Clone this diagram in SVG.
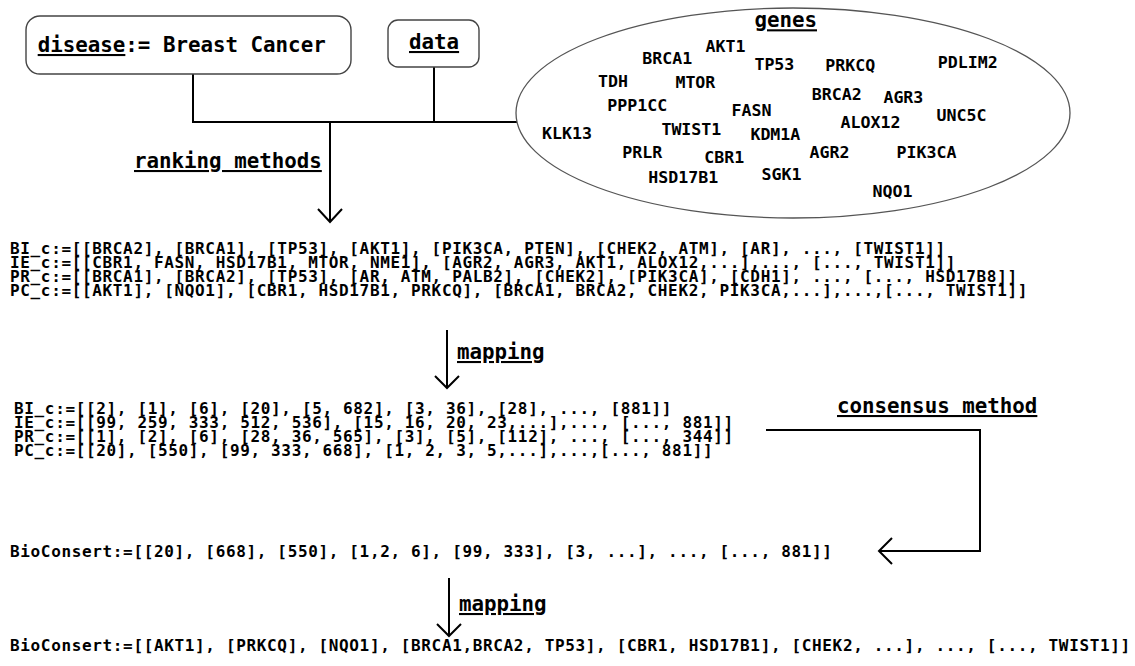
<svg xmlns="http://www.w3.org/2000/svg" width="1135" height="666" viewBox="0 0 1135 666">
<style>
text{font-family:"DejaVu Sans Mono","Liberation Mono",monospace;font-weight:bold;fill:#000}
.title{font-size:20.8px}
.gene{font-size:16.6px}
.list{font-size:16px;letter-spacing:0.65px}
.ul{text-decoration:underline}
.box{fill:#fff;stroke:#444;stroke-width:1.4}
.conn{fill:none;stroke:#000;stroke-width:2}
</style>
<rect width="1135" height="666" fill="#fff"/>
<g id="connectors" class="conn">
<path d="M193,74 V122 H517"/>
<path d="M434,67 V122"/>
<path d="M330,122 V222"/>
<polyline points="318,209 330,222 342,209"/>
<path d="M447,330 V388"/>
<polyline points="435,376 447,388 459,376"/>
<path d="M766,430 H980 V551 H879"/>
<polyline points="892,538 879,551 892,564"/>
<path d="M449,578 V636"/>
<polyline points="437,624 449,636 461,624"/>
</g>
<g id="disease">
<rect class="box" x="26" y="16" width="325" height="58" rx="14"/>
<text class="title" x="37.7" y="52"><tspan class="ul">disease</tspan>:= Breast Cancer</text>
</g>
<g id="data">
<rect class="box" x="388" y="20" width="91" height="47" rx="10"/>
<text class="title ul" x="409" y="49">data</text>
</g>
<g id="genes">
<ellipse cx="793" cy="113" rx="277" ry="105" fill="#fff" stroke="#555" stroke-width="1.3"/>
<text class="title ul" x="754.4" y="27.3">genes</text>
<text class="gene" x="705.5" y="51.7">AKT1</text>
<text class="gene" x="642.2" y="64">BRCA1</text>
<text class="gene" x="754.4" y="70">TP53</text>
<text class="gene" x="825.3" y="70.7">PRKCQ</text>
<text class="gene" x="937.8" y="68.3">PDLIM2</text>
<text class="gene" x="598.1" y="87.3">TDH</text>
<text class="gene" x="675.4" y="88.3">MTOR</text>
<text class="gene" x="811.7" y="100">BRCA2</text>
<text class="gene" x="883.4" y="103.3">AGR3</text>
<text class="gene" x="607.3" y="110.7">PPP1CC</text>
<text class="gene" x="731.5" y="115.7">FASN</text>
<text class="gene" x="936.6" y="120.7">UNC5C</text>
<text class="gene" x="840.5" y="128.3">ALOX12</text>
<text class="gene" x="542" y="139">KLK13</text>
<text class="gene" x="661.4" y="135">TWIST1</text>
<text class="gene" x="750.4" y="140">KDM1A</text>
<text class="gene" x="622.2" y="158.3">PRLR</text>
<text class="gene" x="704.3" y="162.7">CBR1</text>
<text class="gene" x="809.6" y="158.3">AGR2</text>
<text class="gene" x="896.6" y="158.3">PIK3CA</text>
<text class="gene" x="648.2" y="182.7">HSD17B1</text>
<text class="gene" x="761.6" y="180">SGK1</text>
<text class="gene" x="872.5" y="196.7">NQO1</text>
</g>
<g id="ranking-label">
<text class="title ul" x="134" y="168">ranking methods</text>
</g>
<g id="ranked-lists">
<text class="list" x="10" y="253.5">BI_c:=[[BRCA2], [BRCA1], [TP53], [AKT1], [PIK3CA, PTEN], [CHEK2, ATM], [AR], ..., [TWIST1]]</text>
<text class="list" x="10" y="267.8">IE_c:=[[CBR1, FASN, HSD17B1, MTOR, NME1], [AGR2, AGR3, AKT1, ALOX12,...],..., [..., TWIST1]]</text>
<text class="list" x="10" y="282.1">PR_c:=[[BRCA1], [BRCA2], [TP53], [AR, ATM, PALB2], [CHEK2], [PIK3CA], [CDH1], ..., [..., HSD17B8]]</text>
<text class="list" x="10" y="296.4">PC_c:=[[AKT1], [NQO1], [CBR1, HSD17B1, PRKCQ], [BRCA1, BRCA2, CHEK2, PIK3CA,...],...,[..., TWIST1]]</text>
</g>
<g id="mapping-label-1">
<text class="title ul" x="457" y="359">mapping</text>
</g>
<g id="mapped-lists">
<text class="list" x="14" y="413.5">BI_c:=[[2], [1], [6], [20], [5, 682], [3, 36], [28], ..., [881]]</text>
<text class="list" x="14" y="427.8">IE_c:=[[99, 259, 333, 512, 536], [15, 16, 20, 23,...],..., [..., 881]]</text>
<text class="list" x="14" y="442.1">PR_c:=[[1], [2], [6], [28, 36, 565], [3], [5], [112], ..., [..., 344]]</text>
<text class="list" x="14" y="456.4">PC_c:=[[20], [550], [99, 333, 668], [1, 2, 3, 5,...],...,[..., 881]]</text>
</g>
<g id="consensus-label">
<text class="title ul" x="837" y="413">consensus method</text>
</g>
<g id="bioconsert-ids">
<text class="list" x="10" y="557">BioConsert:=[[20], [668], [550], [1,2, 6], [99, 333], [3, ...], ..., [..., 881]]</text>
</g>
<g id="mapping-label-2">
<text class="title ul" x="459" y="611">mapping</text>
</g>
<g id="bioconsert-genes">
<text class="list" x="10" y="651">BioConsert:=[[AKT1], [PRKCQ], [NQO1], [BRCA1,BRCA2, TP53], [CBR1, HSD17B1], [CHEK2, ...], ..., [..., TWIST1]]</text>
</g>
</svg>
